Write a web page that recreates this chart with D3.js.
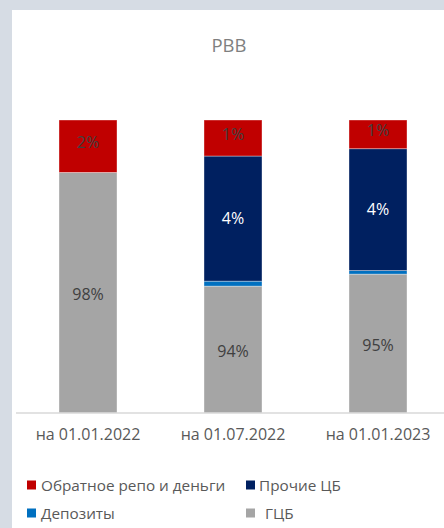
<!DOCTYPE html>
<html><head><meta charset="utf-8">
<script src="https://cdn.jsdelivr.net/npm/d3@7/dist/d3.min.js"></script>
<style>
html,body{margin:0;padding:0;background:#d6dce4;}
svg{display:block;}
</style></head>
<body>
<svg id="chart" width="444" height="528"></svg>
<script>
const title = "РВВ";
const categories = ["на 01.01.2022", "на 01.07.2022", "на 01.01.2023"];
// segment heights as drawn (share of bar height, %), bottom to top
const seriesNames = ["ГЦБ", "Депозиты", "Прочие ЦБ", "Обратное репо и деньги"];
const gcbValues = [82.1, 43.3, 47.4];
const depositValues = [0, 1.7, 1.2];
const otherValues = [0, 42.7, 41.6];
const repoValues = [17.9, 12.3, 9.8];
// labels printed on the segments
const gcbLabels = ["98%", "94%", "95%"];
const depositLabels = ["", "", ""];
const otherLabels = ["", "4%", "4%"];
const repoLabels = ["2%", "1%", "1%"];
const colors = ["#a5a5a5", "#0070c0", "#002060", "#c00000"];
const labelColors = ["#404040", "#ffffff", "#ffffff", "#404040"];
const legendOrder = ["Обратное репо и деньги", "Прочие ЦБ", "Депозиты", "ГЦБ"];

const svg = d3.select("#chart");
svg.append("rect").attr("x", 12).attr("y", 10).attr("width", 432).attr("height", 518).attr("fill", "#ffffff");

const font = "'Open Sans', 'Noto Sans', sans-serif";

svg.append("text").attr("x", 229).attr("y", 52).attr("text-anchor", "middle")
  .attr("font-family", font).attr("font-size", 18.5).attr("fill", "#7f7f7f").text(title);

const x = d3.scaleBand().domain(categories).range([15.5, 450.5]).paddingInner(0.6).paddingOuter(0.3);
const y = d3.scaleLinear().domain([0, 100]).range([413, 120]);

const valueSets = [gcbValues, depositValues, otherValues, repoValues];
const labelSets = [gcbLabels, depositLabels, otherLabels, repoLabels];
const table = categories.map((c, i) => {
  const o = {cat: c};
  seriesNames.forEach((s, j) => o[s] = valueSets[j][i]);
  return o;
});
const stacked = d3.stack().keys(seriesNames)(table);

const g = svg.append("g");
stacked.forEach((layer, j) => {
  g.selectAll(null).data(layer.filter(d => d[1] - d[0] > 0)).enter().append("rect")
    .attr("x", d => x(d.data.cat))
    .attr("width", x.bandwidth())
    .attr("y", d => y(d[1]))
    .attr("height", d => y(d[0]) - y(d[1]))
    .attr("fill", colors[j])
    .attr("stroke", "#ffffff").attr("stroke-opacity", 0.45).attr("stroke-width", 0.8);
});
const topIdx = seriesNames.length - 1;
stacked.forEach((layer, j) => {
  layer.forEach((d, i) => {
    const lab = labelSets[j][i];
    if (!lab) return;
    const shift = j === topIdx ? -4 : (j === 0 ? 1.5 : 0);
    g.append("text")
      .attr("x", x(d.data.cat) + x.bandwidth() / 2)
      .attr("y", (y(d[0]) + y(d[1])) / 2 + shift)
      .attr("dy", "0.36em")
      .attr("text-anchor", "middle")
      .attr("font-family", font).attr("font-size", 16)
      .attr("fill", labelColors[j]).text(lab);
  });
});

// axis
const axis = svg.append("g").attr("transform", "translate(0,413)")
  .call(d3.axisBottom(x).tickSize(0).tickPadding(16));
axis.select(".domain").remove();
axis.append("line").attr("x1", 16).attr("x2", 444).attr("y1", 0).attr("y2", 0)
  .attr("stroke", "#d9d9d9").attr("stroke-width", 1.5);
axis.selectAll(".tick text").attr("font-family", font).attr("font-size", 16).attr("fill", "#595959");

// legend
const legendPos = [[27, 485, 41], [246, 485, 259], [27, 513, 41], [246, 513, 265]];
legendOrder.forEach((name, k) => {
  const j = seriesNames.indexOf(name);
  const [lx, ly, tx] = legendPos[k];
  svg.append("rect").attr("x", lx).attr("y", ly - 4.5).attr("width", 9).attr("height", 9).attr("fill", colors[j]);
  svg.append("text").attr("x", tx).attr("y", ly).attr("dy", "0.36em")
    .attr("font-family", font).attr("font-size", 15.3).attr("fill", "#595959").text(name);
});
</script>
</body></html>
